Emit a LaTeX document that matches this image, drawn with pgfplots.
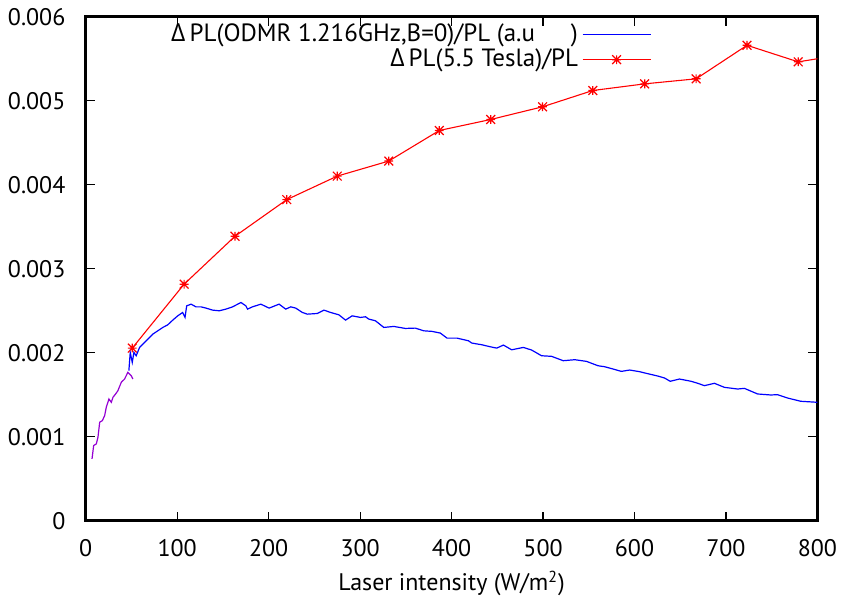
\documentclass[border=0pt]{standalone}
\usepackage{fontspec}
\setmainfont{PT Sans}
\newfontfamily\gk{Open Sans}
\usepackage{pgfplots}
\pgfplotsset{compat=1.18}
\definecolor{gpblue}{RGB}{0,0,255}
\definecolor{gpred}{RGB}{255,0,0}
\definecolor{gppurple}{RGB}{148,0,211}
\pgfdeclareplotmark{gpstar}{%
  \pgfpathmoveto{\pgfqpoint{-\pgfplotmarksize}{0pt}}%
  \pgfpathlineto{\pgfqpoint{\pgfplotmarksize}{0pt}}%
  \pgfpathmoveto{\pgfqpoint{0pt}{-\pgfplotmarksize}}%
  \pgfpathlineto{\pgfqpoint{0pt}{\pgfplotmarksize}}%
  \pgfpathmoveto{\pgfqpoint{-\pgfplotmarksize}{-\pgfplotmarksize}}%
  \pgfpathlineto{\pgfqpoint{\pgfplotmarksize}{\pgfplotmarksize}}%
  \pgfpathmoveto{\pgfqpoint{-\pgfplotmarksize}{\pgfplotmarksize}}%
  \pgfpathlineto{\pgfqpoint{\pgfplotmarksize}{-\pgfplotmarksize}}%
  \pgfusepathqstroke}

\begin{document}
\fontsize{12}{14}\selectfont
\begin{tikzpicture}
\begin{axis}[
  scale only axis, width=366.5pt, height=252.5pt,
  xmin=0, xmax=800, ymin=0, ymax=0.006,
  xtick={0,100,200,300,400,500,600,700,800},
  ytick={0,0.001,0.002,0.003,0.004,0.005,0.006},
  yticklabels={0,0.001,0.002,0.003,0.004,0.005,0.006},
  scaled y ticks=false,
  /pgf/number format/assume math mode=true,
  tick align=inside, major tick length=4.5pt,
  axis line style={line width=1.5pt},
  every tick/.style={black, line width=0.6pt},
  ticklabel style={font=\fontsize{12}{14}\selectfont},
  yticklabel style={xshift=-6pt},
  xticklabel style={yshift=-5pt},
  xlabel={Laser intensity (W/m\textsuperscript{2})},
  xlabel style={font=\fontsize{12}{14}\selectfont, yshift=1pt},
  legend style={draw=none, fill=none, inner sep=0pt,
    at={(rel axis cs:0.7735,0.995)}, anchor=north east,
    font=\fontsize{12.5}{14}\selectfont,
    row sep=-2pt,
    cells={anchor=east}},
  legend plot pos=right,
  legend image code/.code={\draw[mark repeat=2,mark phase=2,#1] plot coordinates {(0cm,0cm) (0.6cm,0cm) (1.2cm,0cm)};},
]
\addplot[gpblue, line width=0.6pt] coordinates {
(47.2,0.001786)(48.7,0.002004)(50.9,0.001885)(52.7,0.002004)(55.2,0.001964)
(58.9,0.002063)(64.3,0.002123)(67.9,0.002162)(73.4,0.002222)(78.8,0.002261)
(84.3,0.002301)(89.7,0.002332)(95.2,0.002388)(100.6,0.002439)(106.0,0.002479)
(108.6,0.002420)(110.4,0.002558)(115.2,0.002578)(120.6,0.002546)(126.1,0.002546)
(131.5,0.002531)(138.8,0.002507)(146.0,0.002499)(153.3,0.002519)(160.6,0.002546)
(169.7,0.002598)(175.1,0.002558)(176.9,0.002519)(182.3,0.002546)(191.5,0.002578)
(200.5,0.002531)(211.4,0.002578)(218.7,0.002519)(224.2,0.002546)(229.6,0.002531)
(236.9,0.002479)(242.3,0.002459)(253.2,0.002467)(260.5,0.002507)(267.8,0.002479)
(276.8,0.002451)(284.1,0.002388)(291.3,0.002439)(300.5,0.002420)(305.9,0.002428)
(309.5,0.002400)(316.8,0.002380)(325.9,0.002301)(336.8,0.002313)(349.5,0.002289)
(360.4,0.002293)(369.5,0.002261)(378.6,0.002254)(387.7,0.002234)(395.0,0.002174)
(405.9,0.002174)(418.5,0.002142)(422.1,0.002115)(433.0,0.002095)(442.2,0.002071)
(449.4,0.002055)(456.7,0.002091)(465.7,0.002035)(478.5,0.002063)(487.5,0.002032)
(498.4,0.001964)(509.3,0.001957)(522.1,0.001905)(534.8,0.001917)(547.5,0.001897)
(560.2,0.001845)(567.5,0.001833)(576.6,0.001806)(585.6,0.001778)(594.8,0.001794)
(605.7,0.001774)(614.7,0.001750)(625.6,0.001722)(632.9,0.001699)(639.0,0.001660)
(649.2,0.001687)(661.9,0.001660)(669.2,0.001636)(676.4,0.001608)(687.4,0.001636)
(698.3,0.001588)(712.8,0.001568)(720.1,0.001576)(734.6,0.001509)(749.1,0.001497)
(756.4,0.001501)(767.3,0.001461)(781.8,0.001422)(800.0,0.001410)
};
\addlegendentry{{\gk Δ}\,PL(ODMR 1.216GHz,B=0)/PL (a.u\hspace{18pt})}
\addplot[gpred, line width=0.55pt, mark=gpstar, mark size=2.2pt, mark options={line width=0.6pt, gpred}] coordinates {
(50.9,0.002055)(107.6,0.002816)(163.2,0.003386)(219.8,0.003822)(275.0,0.004102)
(331.3,0.004281)(386.6,0.004645)(442.8,0.004776)(499.5,0.004927)(554.4,0.005121)
(611.1,0.005200)(667.4,0.005260)(723.0,0.005659)(779.0,0.005462)(835.0,0.005560)
};
\addlegendentry{{\gk Δ}\,PL(5.5 Tesla)/PL\hspace{7.5pt}}
\addplot[gppurple, line width=0.6pt, forget plot] coordinates {
(6.9,0.000737)(8.7,0.000895)(11.6,0.000915)(13.4,0.000994)(15.3,0.001173)
(18.2,0.001192)(20.7,0.001251)(22.5,0.001351)(25.4,0.001449)(28.0,0.001410)
(29.8,0.001470)(32.7,0.001509)(35.2,0.001548)(38.9,0.001648)(42.5,0.001687)
(46.1,0.001767)(48.0,0.001746)(49.8,0.001727)(51.6,0.001687)
};
\end{axis}
\end{tikzpicture}
\end{document}
